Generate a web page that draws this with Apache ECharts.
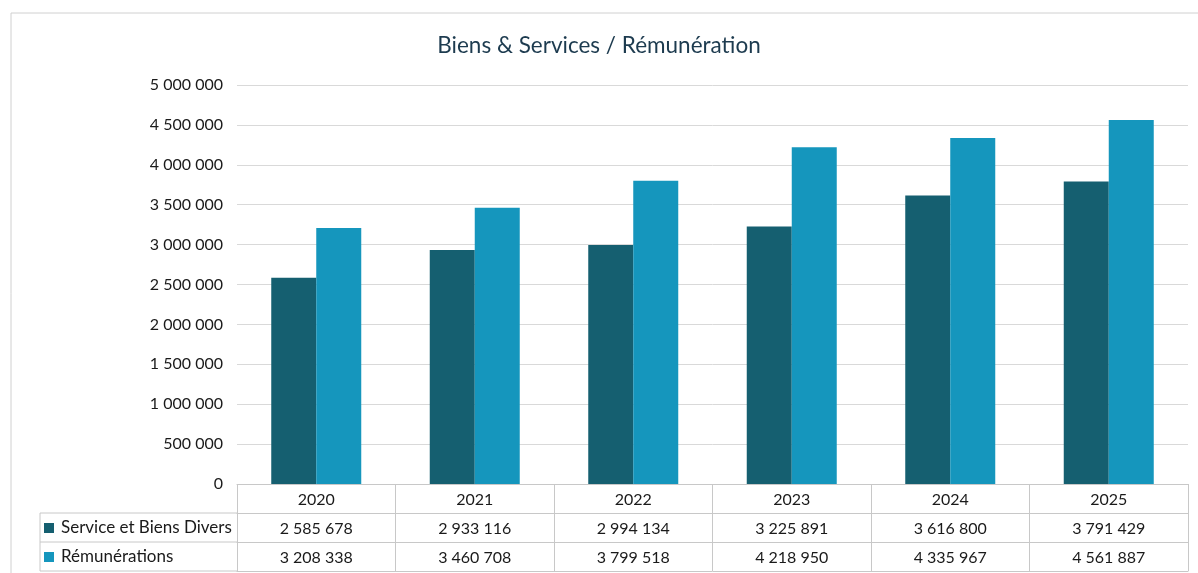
<!DOCTYPE html>
<html>
<head>
<meta charset="utf-8">
<script src="https://cdn.jsdelivr.net/npm/echarts@6/dist/echarts.min.js"></script>
<style>html,body{margin:0;padding:0;background:#fff}#c{width:1198px;height:573px}</style>
</head>
<body>
<div id="c"></div>
<script>
const title = 'Biens & Services / Rémunération';
const years = ['2020', '2021', '2022', '2023', '2024', '2025'];
const seriesNames = ['Service et Biens Divers', 'Rémunérations'];
const serviceBiens = [2585678, 2933116, 2994134, 3225891, 3616800, 3791429];
const remunerations = [3208338, 3460708, 3799518, 4218950, 4335967, 4561887];
const yMin = 0, yMax = 5000000, yStep = 500000;

const DARK = '#155f70', LIGHT = '#1596bd', LINE = '#c8c8c8', TXT = '#1a1a1a';
const FONT = 'Lato';
function fmt(v) { return String(v).replace(/\B(?=(\d{3})+(?!\d))/g, ' '); }

const G = { left: 237, right: 10, top: 85, bottom: 89 };
const ROW = 29; // table row height
const W = 1198, H = 573;
const baseY = H - G.bottom;
const tableLeft = 40;

const chart = echarts.init(document.getElementById('c'), null, { renderer: 'canvas' });

function tableAxis(idx, values, showLabel) {
  return {
    type: 'category', data: years, position: 'bottom', offset: idx * ROW,
    gridIndex: 0,
    axisLine: { show: true, lineStyle: { color: LINE, width: 1 } },
    axisTick: { show: false },
    axisLabel: {
      show: showLabel, interval: 0, margin: 8, color: TXT, fontFamily: FONT, fontSize: 16,
      formatter: (val, i) => values ? fmt(values[i]) : val
    },
    splitLine: { show: false }
  };
}

const option = {
  animation: false,
  backgroundColor: '#fff',
  title: {
    text: title, left: 'center', top: 29,
    textStyle: { fontFamily: FONT, fontSize: 22.5, fontWeight: 'normal', color: '#1d3b4f' }
  },
  legend: {
    orient: 'vertical', left: tableLeft + 4, top: baseY + ROW + 5, padding: 0,
    itemWidth: 10, itemHeight: 10, itemGap: 9, icon: 'rect',
    data: seriesNames,
    textStyle: { fontFamily: FONT, fontSize: 17, color: TXT, lineHeight: 20, padding: [0, 0, 0, 2] },
    selectedMode: false
  },
  grid: { left: G.left, right: G.right, top: G.top, bottom: G.bottom, containLabel: false },
  xAxis: [
    {
      type: 'category', data: years, position: 'bottom',
      axisLine: { show: true, lineStyle: { color: LINE } },
      axisTick: { show: true, alignWithLabel: false, interval: 0, length: ROW * 3, lineStyle: { color: LINE } },
      axisLabel: { interval: 0, margin: 8, color: TXT, fontFamily: FONT, fontSize: 16 },
      splitLine: { show: false }
    },
    tableAxis(1, serviceBiens, true),
    tableAxis(2, remunerations, true),
    tableAxis(3, null, false)
  ],
  yAxis: {
    type: 'value', min: yMin, max: yMax, interval: yStep,
    axisLine: { show: false }, axisTick: { show: false },
    axisLabel: { margin: 14, color: TXT, fontFamily: FONT, fontSize: 16, formatter: v => fmt(v) },
    splitLine: { lineStyle: { color: '#d9d9d9', width: 1 } }
  },
  series: [
    { name: seriesNames[0], type: 'bar', data: serviceBiens, barWidth: 45, barGap: '0%', itemStyle: { color: DARK } },
    { name: seriesNames[1], type: 'bar', data: remunerations, barWidth: 45, barGap: '0%', itemStyle: { color: LIGHT } }
  ],
  graphic: [
    { type: 'rect', shape: { x: 11, y: 13, width: 1300, height: 700 }, style: { fill: 'none', stroke: '#d0d0d0', lineWidth: 1 }, silent: true, z: -1 },
    { type: 'line', shape: { x1: tableLeft, y1: baseY + ROW, x2: G.left, y2: baseY + ROW }, style: { stroke: LINE, lineWidth: 1 }, silent: true },
    { type: 'line', shape: { x1: tableLeft, y1: baseY + 2 * ROW, x2: G.left, y2: baseY + 2 * ROW }, style: { stroke: LINE, lineWidth: 1 }, silent: true },
    { type: 'line', shape: { x1: tableLeft, y1: baseY + 3 * ROW, x2: G.left, y2: baseY + 3 * ROW }, style: { stroke: LINE, lineWidth: 1 }, silent: true },
    { type: 'line', shape: { x1: tableLeft, y1: baseY + ROW, x2: tableLeft, y2: baseY + 3 * ROW }, style: { stroke: LINE, lineWidth: 1 }, silent: true }
  ]
};
chart.setOption(option);
</script>
</body>
</html>
